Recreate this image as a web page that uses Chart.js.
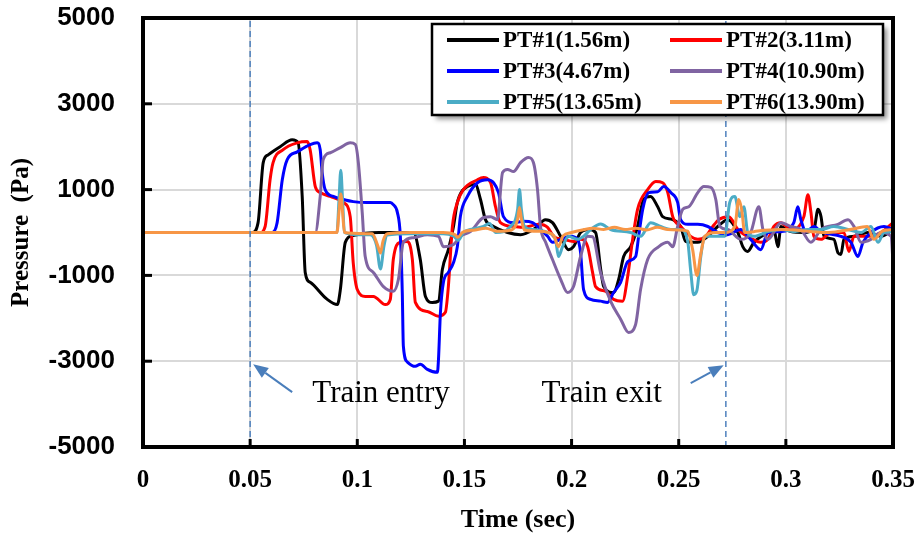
<!DOCTYPE html>
<html>
<head>
<meta charset="utf-8">
<script src="https://cdn.jsdelivr.net/npm/chart.js@4.4.1/dist/chart.umd.min.js"></script>
<style>
  html, body { margin: 0; padding: 0; background: #fff; }
</style>
</head>
<body>
<canvas id="chart" width="918" height="537"></canvas>
<script>
'use strict';

// pressure traces, [time (s), pressure (Pa)]
var pt1 = [[0,0],[0.051,0],[0.0537,230],[0.0561,1630],[0.0584,1810],[0.064,2000],[0.0696,2160],[0.0724,2090],[0.0743,840],[0.0757,-930],[0.078,-1160],[0.086,-1560],[0.0907,-1680],[0.0921,-1330],[0.0944,-230],[0.098,-70],[0.11,0],[0.1262,0],[0.1294,-630],[0.1318,-1490],[0.135,-1630],[0.1379,-1600],[0.1397,-860],[0.1425,-400],[0.1449,140],[0.1467,700],[0.1514,1070],[0.1551,1120],[0.1575,770],[0.1598,300],[0.1636,140],[0.1701,0],[0.1762,-50],[0.1822,70],[0.1879,300],[0.1911,230],[0.1949,-90],[0.1986,-400],[0.2009,-330],[0.2042,0],[0.208,70],[0.2112,0],[0.2136,-860],[0.215,-1260],[0.2196,-1400],[0.222,-1090],[0.2243,-560],[0.2276,-330],[0.2308,140],[0.2336,770],[0.2369,840],[0.2402,600],[0.2425,370],[0.2472,300],[0.2509,140],[0.2533,-210],[0.2589,-230],[0.2636,-90],[0.2682,140],[0.2729,300],[0.2776,0],[0.2799,-330],[0.2822,-440],[0.2851,-230],[0.2916,0],[0.2944,70],[0.2963,-330],[0.2977,140],[0.3023,20],[0.3084,0],[0.3131,70],[0.315,540],[0.3164,370],[0.3178,-90],[0.3224,-160],[0.3243,-470],[0.3257,-510],[0.3271,-160],[0.3318,-90],[0.3383,0],[0.3444,-90],[0.35,70]];

var pt2 = [[0,0],[0.0547,0],[0.057,140],[0.0593,1230],[0.0607,1630],[0.0654,1930],[0.072,2090],[0.0766,2120],[0.078,1930],[0.0804,1070],[0.0827,930],[0.0874,840],[0.0935,700],[0.0967,370],[0.0981,-700],[0.1,-1330],[0.1037,-1490],[0.1075,-1490],[0.1131,-1680],[0.1154,-1560],[0.1168,-630],[0.1201,-230],[0.1234,-210],[0.1257,-630],[0.1271,-1630],[0.1327,-1840],[0.1379,-1950],[0.1411,-1860],[0.1425,-1260],[0.1444,140],[0.1467,700],[0.1495,1000],[0.1561,1230],[0.1589,1280],[0.1622,1160],[0.1645,600],[0.1668,230],[0.1729,140],[0.1776,120],[0.1846,190],[0.1888,120],[0.1916,-90],[0.1963,-160],[0.2009,-210],[0.2042,-160],[0.2075,-330],[0.2098,-930],[0.2112,-1260],[0.2159,-1370],[0.2196,-1560],[0.2238,-1600],[0.2262,-1020],[0.2285,-160],[0.2308,540],[0.2355,1000],[0.2393,1190],[0.2425,1160],[0.2449,930],[0.2472,370],[0.2509,140],[0.2556,-90],[0.2589,-160],[0.2626,-90],[0.2659,140],[0.2687,300],[0.2734,370],[0.2776,70],[0.2846,-160],[0.2883,-230],[0.2916,-160],[0.2944,140],[0.2977,230],[0.3023,70],[0.3084,370],[0.3103,880],[0.3117,470],[0.3131,-90],[0.3164,-160],[0.321,0],[0.3271,0],[0.3294,-440],[0.3318,-90],[0.3383,-90],[0.3444,0],[0.35,230]];

var pt3 = [[0,0],[0.0603,0],[0.0626,230],[0.065,1230],[0.0673,1700],[0.072,1880],[0.078,2050],[0.0813,2090],[0.0827,1930],[0.0836,1400],[0.085,1000],[0.0888,840],[0.0935,770],[0.0981,720],[0.1047,700],[0.1154,700],[0.1168,650],[0.1187,470],[0.1201,-90],[0.121,-1400],[0.1215,-2650],[0.1234,-3020],[0.1271,-3120],[0.1294,-3070],[0.1327,-3190],[0.1374,-3260],[0.1379,-2950],[0.1388,-1860],[0.1402,-1160],[0.1425,-930],[0.1449,-700],[0.1467,-330],[0.1481,370],[0.1514,840],[0.1561,1160],[0.1608,1230],[0.1636,1160],[0.1659,930],[0.1682,370],[0.1729,230],[0.1776,260],[0.1818,230],[0.1855,70],[0.1888,-90],[0.1911,-230],[0.1949,-160],[0.1995,-90],[0.2028,-160],[0.2042,-470],[0.2056,-1330],[0.2089,-1560],[0.2136,-1600],[0.2168,-1630],[0.2196,-1400],[0.2229,-1160],[0.2262,-680],[0.2299,-560],[0.2313,-90],[0.2332,540],[0.236,930],[0.2402,950],[0.243,1070],[0.2463,930],[0.2495,700],[0.2509,300],[0.2542,190],[0.2589,190],[0.2636,140],[0.2682,0],[0.2729,-50],[0.279,70],[0.2836,-160],[0.2883,-400],[0.2916,0],[0.2977,20],[0.3037,230],[0.3056,600],[0.307,300],[0.3094,20],[0.3131,140],[0.3164,20],[0.3257,-90],[0.3304,-230],[0.3336,-560],[0.336,-230],[0.3397,0],[0.3458,140],[0.35,70]];

var pt4 = [[0,0],[0.0804,0],[0.0827,840],[0.0841,1700],[0.0874,1860],[0.0921,1980],[0.0967,2090],[0.0991,2050],[0.1005,1630],[0.1023,470],[0.1037,-560],[0.1075,-930],[0.1122,-1260],[0.1168,-1370],[0.1192,-1090],[0.1215,-230],[0.1262,-120],[0.1327,-50],[0.1379,-90],[0.1402,-330],[0.1449,-280],[0.1481,-90],[0.1528,20],[0.1589,350],[0.1622,370],[0.1654,300],[0.1678,1400],[0.1701,1470],[0.1729,1420],[0.1762,1630],[0.1799,1750],[0.1822,1630],[0.1841,1000],[0.1855,140],[0.1879,-230],[0.1911,-630],[0.1949,-1090],[0.1981,-1400],[0.2009,-1260],[0.2042,-560],[0.2075,-90],[0.2098,-100],[0.2136,-950],[0.2182,-1600],[0.2229,-2020],[0.2266,-2330],[0.2299,-2140],[0.2322,-1330],[0.2355,-630],[0.2407,-330],[0.2449,-230],[0.2472,-330],[0.2495,140],[0.2519,540],[0.2547,600],[0.2589,930],[0.2617,1070],[0.265,1050],[0.2673,770],[0.2692,140],[0.2729,70],[0.279,-160],[0.2836,0],[0.2874,600],[0.2893,70],[0.2916,-160],[0.2977,230],[0.3023,140],[0.307,70],[0.3117,-230],[0.3164,70],[0.3243,190],[0.329,300],[0.3318,140],[0.3351,-230],[0.3397,-160],[0.3444,0],[0.3491,-90],[0.35,-700]];

var pt5 = [[0,0],[0.0905,0],[0.0915,800],[0.0923,1450],[0.0931,800],[0.094,0],[0.1,-50],[0.106,-50],[0.109,-300],[0.1108,-850],[0.1125,-300],[0.114,-60],[0.125,-30],[0.14,-30],[0.1448,-80],[0.1472,-180],[0.1495,0],[0.1528,70],[0.1589,140],[0.1617,210],[0.1645,0],[0.1715,140],[0.1748,530],[0.1757,1000],[0.1766,530],[0.178,140],[0.1822,70],[0.1888,0],[0.1925,-160],[0.1939,-560],[0.1958,-330],[0.1986,-90],[0.2028,-160],[0.2056,-90],[0.2089,70],[0.2136,200],[0.2182,70],[0.2276,0],[0.2322,-90],[0.2369,230],[0.2416,140],[0.2463,70],[0.2509,70],[0.2542,-210],[0.2556,-900],[0.257,-1450],[0.2585,-1350],[0.2603,-560],[0.2622,-90],[0.2668,-90],[0.2715,-90],[0.2738,700],[0.2762,840],[0.2785,370],[0.2804,600],[0.2822,0],[0.285,-90],[0.2916,20],[0.2977,70],[0.3037,20],[0.3103,70],[0.3164,70],[0.3224,140],[0.329,70],[0.3351,0],[0.3397,140],[0.343,-230],[0.3458,0],[0.35,20]];

var pt6 = [[0,0],[0.0905,0],[0.0915,500],[0.0923,900],[0.0931,500],[0.094,0],[0.107,-30],[0.1095,-300],[0.1108,-480],[0.112,-200],[0.114,-30],[0.125,0],[0.14,0],[0.1455,-50],[0.147,-110],[0.149,0],[0.155,60],[0.16,100],[0.165,30],[0.172,60],[0.1748,300],[0.1757,580],[0.1766,300],[0.178,60],[0.185,30],[0.1915,-60],[0.1939,-330],[0.196,-80],[0.2,0],[0.205,60],[0.21,100],[0.215,70],[0.22,120],[0.225,70],[0.23,100],[0.235,60],[0.24,120],[0.245,70],[0.25,60],[0.2542,30],[0.2565,-400],[0.2585,-1000],[0.2603,-500],[0.2622,-90],[0.267,0],[0.2715,0],[0.2762,140],[0.278,770],[0.2794,530],[0.2808,0],[0.285,20],[0.29,50],[0.3,70],[0.31,30],[0.32,0],[0.33,70],[0.338,140],[0.3411,-160],[0.345,30],[0.35,70]];

var seriesNames = ['PT#1(1.56m)', 'PT#2(3.11m)', 'PT#3(4.67m)', 'PT#4(10.90m)', 'PT#5(13.65m)', 'PT#6(13.90m)'];
var seriesColors = ['#000000', '#ff0000', '#0000ff', '#8064a2', '#4bacc6', '#f79646'];

// train entry / exit instants (s)
var entryTime = 0.05;
var exitTime = 0.272;

var xTicks = [0, 0.05, 0.1, 0.15, 0.2, 0.25, 0.3, 0.35];
var yTicks = [-5000, -3000, -1000, 1000, 3000, 5000];

var series = [pt1, pt2, pt3, pt4, pt5, pt6];

var datasets = series.map(function(d, i) {
  return {
    label: seriesNames[i],
    data: d,
    borderColor: seriesColors[i],
    borderWidth: 3,
    pointRadius: 0,
    fill: false,
    cubicInterpolationMode: 'monotone',
    order: 6 - i
  };
});

[entryTime, exitTime].forEach(function(t) {
  datasets.push({
    label: '',
    data: [[t, -5000], [t, 5000]],
    borderColor: '#4f81bd',
    borderWidth: 1.5,
    borderDash: [6, 4],
    pointRadius: 0,
    fill: false,
    order: 0,
    isMarker: true
  });
});

// notes under the curves, in data units
var notes = [
  { text: 'Train entry', at: [0.079, -3950], from: [0.0696, -3720], to: [0.0514, -3070] },
  { text: 'Train exit', at: [0.186, -3950], from: [0.2556, -3510], to: [0.271, -3094] }
];

var framePlugin = {
  id: 'frame',
  afterDatasetsDraw: function(chart) {
    var ctx = chart.ctx, a = chart.chartArea;
    var xs = chart.scales.x, ys = chart.scales.y;
    ctx.save();
    ctx.strokeStyle = '#000';
    ctx.lineWidth = 3;
    yTicks.forEach(function(v) {
      if (v === -5000 || v === 5000) return;
      var py = ys.getPixelForValue(v);
      ctx.beginPath(); ctx.moveTo(a.left, py); ctx.lineTo(a.left + 9, py); ctx.stroke();
    });
    xTicks.forEach(function(v) {
      if (v === 0 || v === 0.35) return;
      var px = xs.getPixelForValue(v);
      ctx.beginPath(); ctx.moveTo(px, a.bottom); ctx.lineTo(px, a.bottom - 8); ctx.stroke();
    });
    ctx.lineWidth = 4;
    ctx.strokeRect(a.left, a.top, a.right - a.left, a.bottom - a.top);
    ctx.restore();
  },
  afterDraw: function(chart) {
    var ctx = chart.ctx, a = chart.chartArea;
    var xs = chart.scales.x, ys = chart.scales.y;
    ctx.save();

    // notes and arrows
    ctx.font = '31px "Liberation Serif"';
    ctx.textAlign = 'left';
    ctx.textBaseline = 'alphabetic';
    notes.forEach(function(n) {
      ctx.fillStyle = '#000';
      ctx.fillText(n.text, xs.getPixelForValue(n.at[0]), ys.getPixelForValue(n.at[1]));
      var x1 = xs.getPixelForValue(n.from[0]), y1 = ys.getPixelForValue(n.from[1]);
      var x2 = xs.getPixelForValue(n.to[0]), y2 = ys.getPixelForValue(n.to[1]);
      var ang = Math.atan2(y2 - y1, x2 - x1);
      var hl = 15, hw = 6;
      var bx = x2 - hl * Math.cos(ang), by = y2 - hl * Math.sin(ang);
      ctx.strokeStyle = '#4a7ebb';
      ctx.fillStyle = '#4a7ebb';
      ctx.lineWidth = 2;
      ctx.beginPath(); ctx.moveTo(x1, y1); ctx.lineTo(bx, by); ctx.stroke();
      ctx.beginPath();
      ctx.moveTo(x2, y2);
      ctx.lineTo(bx + hw * Math.sin(ang), by - hw * Math.cos(ang));
      ctx.lineTo(bx - hw * Math.sin(ang), by + hw * Math.cos(ang));
      ctx.closePath();
      ctx.fill();
    });

    // legend box, two columns
    var bl = a.right - 461, bt = a.top + 6, bw = 451, bh = 91;
    ctx.shadowColor = 'rgba(0,0,0,0.45)';
    ctx.shadowBlur = 5;
    ctx.shadowOffsetX = 4;
    ctx.shadowOffsetY = 4;
    ctx.fillStyle = '#fff';
    ctx.fillRect(bl, bt, bw, bh);
    ctx.shadowColor = 'transparent';
    ctx.strokeStyle = '#000';
    ctx.lineWidth = 2.5;
    ctx.strokeRect(bl, bt, bw, bh);

    ctx.font = 'bold 23px "Liberation Serif"';
    ctx.textBaseline = 'middle';
    chart.data.datasets.forEach(function(ds, i) {
      if (ds.isMarker) return;
      var col = i % 2, row = Math.floor(i / 2);
      var lx = bl + (col ? 238 : 15);
      var ly = bt + 16 + row * 31;
      ctx.strokeStyle = ds.borderColor;
      ctx.lineWidth = 4;
      ctx.beginPath(); ctx.moveTo(lx, ly); ctx.lineTo(lx + 52, ly); ctx.stroke();
      ctx.fillStyle = '#000';
      ctx.fillText(ds.label, lx + 56, ly + 1);
    });
    ctx.restore();
  }
};

var ctx = document.getElementById('chart').getContext('2d');
var chart = new Chart(ctx, {
  type: 'line',
  data: { datasets: datasets },
  options: {
    responsive: false,
    animation: false,
    layout: { padding: { left: 0, right: 25, top: 18, bottom: 0 } },
    plugins: {
      legend: { display: false },
      tooltip: { enabled: false }
    },
    scales: {
      x: {
        type: 'linear',
        min: 0,
        max: 0.35,
        afterFit: function(s) { s.height = 90; s.paddingLeft = 0; s.paddingRight = 0; },
        afterBuildTicks: function(s) { s.ticks = xTicks.map(function(v) { return { value: v }; }); },
        grid: { color: '#d9d9d9', lineWidth: 2, drawTicks: false },
        border: { display: false },
        ticks: {
          padding: 19,
          color: '#000',
          maxRotation: 0,
          font: { family: 'Liberation Serif', size: 25, weight: 'bold' },
          callback: function(v) { return String(+v.toFixed(2)); }
        },
        title: {
          display: true,
          text: 'Time (sec)',
          color: '#000',
          padding: { top: 0, bottom: 1 },
          font: { family: 'Liberation Serif', size: 26, weight: 'bold' }
        }
      },
      y: {
        min: -5000,
        max: 5000,
        afterFit: function(s) { s.width = 143; s.paddingTop = 0; s.paddingBottom = 0; },
        afterBuildTicks: function(s) { s.ticks = yTicks.map(function(v) { return { value: v }; }); },
        grid: { color: '#d9d9d9', lineWidth: 2, drawTicks: false },
        border: { display: false },
        ticks: {
          padding: 28,
          color: '#000',
          font: { family: 'Liberation Sans', size: 26, weight: 'bold' },
          callback: function(v) { return String(v); }
        },
        title: {
          display: true,
          text: 'Pressure  (Pa)',
          color: '#000',
          padding: { top: 7, bottom: 0 },
          font: { family: 'Liberation Serif', size: 25, weight: 'bold' }
        }
      }
    }
  },
  plugins: [framePlugin]
});
</script>
</body>
</html>
